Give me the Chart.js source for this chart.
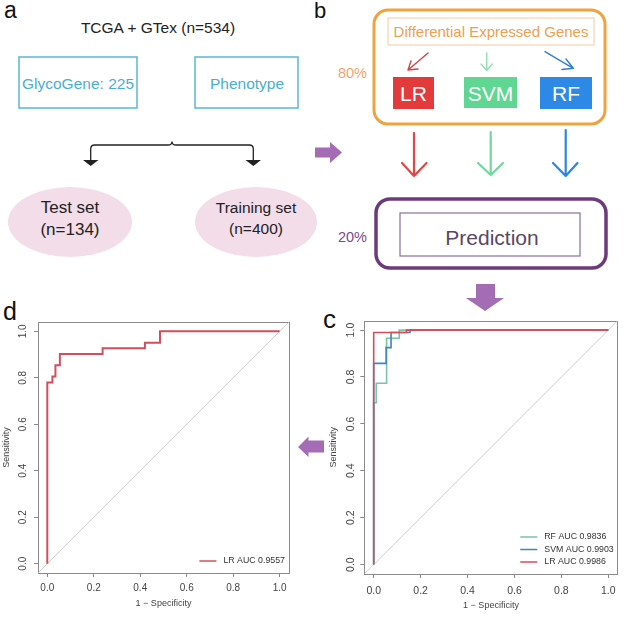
<!DOCTYPE html>
<html><head><meta charset="utf-8">
<script src="https://cdn.jsdelivr.net/npm/chart.js@4/dist/chart.umd.min.js"></script>
<style>
html,body{margin:0;padding:0;background:#fff;}
#wrap{position:relative;width:640px;height:618px;overflow:hidden;font-family:"Liberation Sans",Arial,sans-serif;}
canvas{position:absolute;}
svg{position:absolute;left:0;top:0;}
</style></head><body>
<div id="wrap">
<svg width="640" height="618" font-family="Liberation Sans, Arial, sans-serif">
  <!-- panel labels -->
  <text x="4" y="18" font-size="23" fill="#111">a</text>
  <text x="314" y="18" font-size="22" fill="#111">b</text>
  <text x="323" y="328" font-size="26" fill="#111">c</text>
  <text x="3" y="320" font-size="25" fill="#111">d</text>

  <!-- panel a -->
  <text x="158" y="33" font-size="15.5" text-anchor="middle" fill="#222">TCGA + GTex (n=534)</text>
  <rect x="19" y="57" width="118" height="51" fill="none" stroke="#5ab6d6" stroke-width="1.5"/>
  <text x="78" y="89" font-size="15.5" text-anchor="middle" fill="#4aaed0">GlycoGene: 225</text>
  <rect x="195" y="57" width="103" height="51" fill="none" stroke="#5ab6d6" stroke-width="1.5"/>
  <text x="247" y="89" font-size="15.5" text-anchor="middle" fill="#4aaed0">Phenotype</text>
  <path d="M90.7,160 L90.7,149 Q90.7,145 94.7,145 L168,145 Q172,145 172,141.5 Q172,145 176,145 L249.3,145 Q253.3,145 253.3,149 L253.3,160" fill="none" stroke="#222" stroke-width="1.3"/>
  <polygon points="83,160 98.5,160 90.7,166" fill="#222"/>
  <polygon points="245.5,160 261,160 253.3,166" fill="#222"/>
  <ellipse cx="70" cy="222" rx="62" ry="35" fill="#f3dde9"/>
  <ellipse cx="256" cy="222" rx="61" ry="35" fill="#f3dde9"/>
  <text x="70" y="213" font-size="17" text-anchor="middle" fill="#222">Test set</text>
  <text x="70" y="235" font-size="17" text-anchor="middle" fill="#222">(n=134)</text>
  <text x="256" y="213" font-size="15.5" text-anchor="middle" fill="#222">Training set</text>
  <text x="256" y="234" font-size="15.5" text-anchor="middle" fill="#222">(n=400)</text>

  <!-- purple block arrows -->
  <polygon points="315,147.5 330,147.5 330,142 342,152.5 330,163 330,157.5 315,157.5" fill="#a36cb4"/>
  <polygon points="476,284 495,284 495,298 504,298 485,311 466,298 476,298" fill="#a36cb4"/>
  <polygon points="324,440.5 308.5,440.5 308.5,436.5 298,447 308.5,457 308.5,452.5 324,452.5" fill="#a36cb4"/>

  <!-- panel b -->
  <rect x="374" y="10" width="231" height="114" rx="14" fill="none" stroke="#f0a23e" stroke-width="3"/>
  <rect x="388" y="18" width="206" height="27" fill="none" stroke="#f4c9a0" stroke-width="1"/>
  <text x="491" y="37" font-size="15" text-anchor="middle" fill="#eea050">Differential Expressed Genes</text>
  <text x="352.5" y="78" font-size="14.5" text-anchor="middle" fill="#f0a470">80%</text>
  <g fill="none" stroke-width="1.4" stroke-linecap="round">
    <path d="M428,53 L408,70 M408,70 L418,69 M408,70 L411,61" stroke="#d04545"/>
    <path d="M486.7,53 L486.7,70.5 M486.7,70.5 L481,64 M486.7,70.5 L492.4,64" stroke="#8fdfb4"/>
    <path d="M545,51.7 L573.3,68.3 M573.3,68.3 L566,59 M573.3,68.3 L562,69.5" stroke="#2f7fd8"/>
  </g>
  <rect x="393" y="77" width="41" height="32" fill="#e33b3b"/>
  <rect x="464" y="77" width="53" height="31" fill="#5fd691"/>
  <rect x="540" y="77" width="52" height="32" fill="#2d88e6"/>
  <text x="413.5" y="101" font-size="21" text-anchor="middle" fill="#fff">LR</text>
  <text x="490.5" y="101" font-size="21" text-anchor="middle" fill="#fff">SVM</text>
  <text x="566" y="101" font-size="21" text-anchor="middle" fill="#fff">RF</text>
  <g fill="none" stroke-width="2.2" stroke-linecap="round" stroke-linejoin="round">
    <path d="M414,133 L414,176 M402,163 L414,176 L426.5,163" stroke="#e04646"/>
    <path d="M490.7,132 L490.7,175 M478,163 L490.7,175 L503,163" stroke="#6fd89b"/>
    <path d="M565.7,130 L565.7,176 M553,163 L565.7,176 L577.5,163" stroke="#2a86e0"/>
  </g>
  <rect x="376" y="199" width="230" height="69" rx="14" fill="none" stroke="#6c3b7c" stroke-width="3.5"/>
  <rect x="400" y="213" width="180" height="43" fill="none" stroke="#8b6f98" stroke-width="1.2"/>
  <text x="492" y="245" font-size="21" text-anchor="middle" fill="#5a4763">Prediction</text>
  <text x="352.5" y="241.5" font-size="14.5" text-anchor="middle" fill="#7b4b8c">20%</text>
</svg>
<canvas id="cd" width="300" height="318" style="left:0;top:300px"></canvas>
<canvas id="cc" width="320" height="318" style="left:320px;top:300px"></canvas>
</div>
<script>
// ---- data ----
const TICKS = [0, 0.2, 0.4, 0.6, 0.8, 1.0];
const TICK_LABELS = ['0.0', '0.2', '0.4', '0.6', '0.8', '1.0'];
const AXIS_MIN = -0.04, AXIS_MAX = 1.04;
const X_TITLE = '1 \u2212 Specificity';
const Y_TITLE = 'Sensitivity';

// panel d: test set, LR
const D_LR_FPR = [0, 0, 0.022, 0.022, 0.035, 0.035, 0.054, 0.054, 0.238, 0.238, 0.42, 0.42, 0.485, 0.485, 1];
const D_LR_TPR = [0, 0.780, 0.780, 0.805, 0.805, 0.854, 0.854, 0.902, 0.902, 0.927, 0.927, 0.951, 0.951, 1, 1];
const D_LABELS = ['LR AUC 0.9557'];

// panel c: three models
const C_RF_FPR  = [0, 0, 0.011, 0.011, 0.055, 0.055, 0.109, 0.109, 1];
const C_RF_TPR  = [0, 0.69, 0.69, 0.773, 0.773, 0.965, 0.965, 1, 1];
const C_SVM_FPR = [0, 0, 0.053, 0.053, 0.074, 0.074, 0.155, 0.155, 1];
const C_SVM_TPR = [0, 0.858, 0.858, 0.925, 0.925, 0.99, 0.99, 1, 1];
const C_LR_FPR  = [0, 0, 0.14, 0.14, 1];
const C_LR_TPR  = [0, 0.99, 0.99, 1, 1];
const C_LABELS = ['RF AUC 0.9836', 'SVM AUC 0.9903', 'LR AUC 0.9986'];

const COL_LR = '#d24e5c', COL_SVM = '#3f86bb', COL_RF = '#79c3a9', COL_DIAG = '#cfcfcf';
const FONT = '"Liberation Sans", Arial, sans-serif';

function pts(xs, ys) { return xs.map((x, i) => ({x: x, y: ys[i]})); }

const framePlugin = {
  id: 'frame',
  beforeDatasetsDraw(chart) {
    const a = chart.chartArea, ctx = chart.ctx;
    ctx.save();
    ctx.strokeStyle = '#8a8a8a'; ctx.lineWidth = 1;
    ctx.strokeRect(Math.round(a.left) + 0.5, Math.round(a.top) + 0.5,
                   Math.round(a.right - a.left), Math.round(a.bottom - a.top));
    ctx.restore();
  }
};
const rocLegend = {
  id: 'rocLegend',
  afterDatasetsDraw(chart, args, opts) {
    const items = opts.items || [];
    const a = chart.chartArea, ctx = chart.ctx;
    ctx.save();
    ctx.font = opts.fontSize + 'px ' + FONT;
    let maxW = 0;
    items.forEach(it => { maxW = Math.max(maxW, ctx.measureText(it.text).width); });
    const textX = a.right - 4 - maxW;
    const n = items.length;
    items.forEach((it, i) => {
      const y = a.bottom - 12 - (n - 1 - i) * opts.rowH;
      ctx.strokeStyle = it.color; ctx.lineWidth = 1.5;
      ctx.beginPath(); ctx.moveTo(textX - 24, y); ctx.lineTo(textX - 7, y); ctx.stroke();
      ctx.fillStyle = '#333'; ctx.textBaseline = 'middle'; ctx.textAlign = 'left';
      ctx.fillText(it.text, textX, y);
    });
    ctx.restore();
  }
};

function makeROC(id, series, g) {
  const datasets = [{
    label: 'diag', data: pts([AXIS_MIN, AXIS_MAX], [AXIS_MIN, AXIS_MAX]),
    borderColor: COL_DIAG, borderWidth: 1, order: 10
  }].concat(series.map(s => ({
    label: s.label, data: pts(s.fpr, s.tpr), borderColor: s.color,
    borderWidth: g.lw, order: s.order
  })));
  const axisCommon = (isX) => ({
    type: 'linear', min: AXIS_MIN, max: AXIS_MAX,
    afterBuildTicks: s => { s.ticks = TICKS.map(v => ({value: v})); },
    ticks: {
      callback: (v, i) => TICK_LABELS[i], autoSkip: false,
      font: {size: g.tickFont, family: FONT}, color: '#444',
      padding: isX ? g.xTickPad : g.yTickPad,
      minRotation: isX ? 0 : 90, maxRotation: isX ? 0 : 90,
      crossAlign: isX ? 'near' : 'center'
    },
    grid: {display: true, drawOnChartArea: false, drawTicks: true, tickLength: 4, tickColor: '#888'},
    border: {display: false},
    title: {
      display: true, text: isX ? X_TITLE : Y_TITLE, color: '#444',
      font: {size: 9, family: FONT},
      padding: isX ? {top: 0, bottom: g.xTitlePad} : {top: g.yTitlePad, bottom: 0}
    },
    afterFit: s => { if (isX) s.height = g.xH; else s.width = g.yW; }
  });
  return new Chart(document.getElementById(id), {
    type: 'scatter',
    data: {datasets: datasets},
    options: {
      responsive: false, animation: false, devicePixelRatio: 1,
      showLine: true,
      layout: {padding: {top: g.padTop, right: g.padRight, bottom: 0, left: 0}},
      elements: {point: {radius: 0, hoverRadius: 0}, line: {tension: 0, fill: false}},
      plugins: {
        legend: {display: false}, tooltip: {enabled: false},
        rocLegend: {items: g.legend, fontSize: g.legendFont, rowH: 12.5}
      },
      scales: {x: axisCommon(true), y: axisCommon(false)}
    },
    plugins: [framePlugin, rocLegend]
  });
}

makeROC('cd', [
  {label: D_LABELS[0], fpr: D_LR_FPR, tpr: D_LR_TPR, color: COL_LR, order: 0}
], {
  lw: 2, tickFont: 10, xTickPad: 5.5, yTickPad: 4, xTitlePad: 8.6, yTitlePad: 1.3,
  xH: 45, yW: 38, padTop: 22, padRight: 11, legendFont: 8.8,
  legend: [{text: D_LABELS[0], color: COL_LR}]
});

makeROC('cc', [
  {label: C_LABELS[0], fpr: C_RF_FPR, tpr: C_RF_TPR, color: COL_RF, order: 2},
  {label: C_LABELS[1], fpr: C_SVM_FPR, tpr: C_SVM_TPR, color: COL_SVM, order: 1},
  {label: C_LABELS[2], fpr: C_LR_FPR, tpr: C_LR_TPR, color: COL_LR, order: 0}
], {
  lw: 1.6, tickFont: 10.5, xTickPad: 6.5, yTickPad: 2, xTitlePad: 6.6, yTitlePad: 7.9,
  xH: 44, yW: 44.3, padTop: 20.7, padRight: 22.3, legendFont: 8.8,
  legend: [{text: C_LABELS[0], color: COL_RF}, {text: C_LABELS[1], color: COL_SVM}, {text: C_LABELS[2], color: COL_LR}]
});
</script>
</body></html>
